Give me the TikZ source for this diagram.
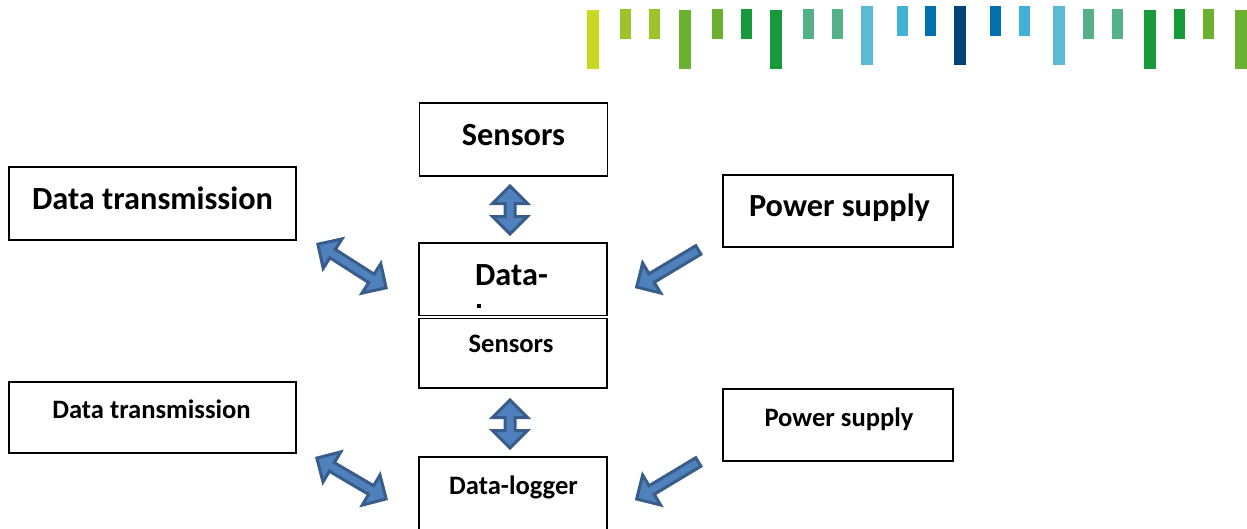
\documentclass[tikz,border=0pt]{standalone}
\usepackage{fontspec}
\setmainfont{Carlito}
\usetikzlibrary{calc}
\definecolor{cA}{HTML}{C9D821}
\definecolor{cB}{HTML}{9DC32A}
\definecolor{cC}{HTML}{6BB131}
\definecolor{cD}{HTML}{169A3A}
\definecolor{cE}{HTML}{53B088}
\definecolor{cF}{HTML}{5CBAD6}
\definecolor{cG}{HTML}{41B1D6}
\definecolor{cH}{HTML}{0070AF}
\definecolor{cI}{HTML}{00427A}
\definecolor{arrowfill}{HTML}{4F81BD}
\definecolor{arrowline}{HTML}{385D8A}
\begin{document}
\begin{tikzpicture}[x=1pt,y=-1pt,
  box/.style={draw=black, line width=1.3pt, inner sep=0pt, minimum width=188pt},
  bigtxt/.style={anchor=base, inner sep=0pt, font=\fontsize{32.3}{36}\selectfont\bfseries},
  smalltxt/.style={anchor=base, inner sep=0pt, font=\fontsize{26.6}{30}\selectfont\bfseries},
  blockarrow/.style={fill=arrowfill, draw=arrowline, line width=3pt, line join=miter},
  pics/dblarrow/.style={code={
    \pgfmathsetmacro\arrL{#1/2}
    \pgfmathsetmacro\arrH{#1/2-17.5}
    \path[blockarrow] (-\arrL,0) -- (-\arrH,17.5) -- (-\arrH,5) -- (\arrH,5)
      -- (\arrH,17.5) -- (\arrL,0) -- (\arrH,-17.5) -- (\arrH,-5)
      -- (-\arrH,-5) -- (-\arrH,-17.5) -- cycle;
  }},
  pics/sglarrow/.style={code={
    \pgfmathsetmacro\arrL{#1/2}
    \pgfmathsetmacro\arrH{#1/2-17.5}
    \path[blockarrow] (-\arrL,5) -- (\arrH,5) -- (\arrH,17.5) -- (\arrL,0)
      -- (\arrH,-17.5) -- (\arrH,-5) -- (-\arrL,-5) -- cycle;
  }}]
\useasboundingbox (0,0) rectangle (1247,528);
\clip (0,0) rectangle (1247,528);
% top bars
\fill[cA] (587,10) rectangle (599,69);
\fill[cB] (620,9) rectangle (631,39);
\fill[cB] (649,9) rectangle (660,39);
\fill[cC] (679,10) rectangle (691,69);
\fill[cC] (712,9) rectangle (723,39);
\fill[cD] (741,9) rectangle (752,39);
\fill[cD] (770,10) rectangle (782,69);
\fill[cE] (803,9) rectangle (814,39);
\fill[cE] (832,9) rectangle (843,39);
\fill[cF] (861,6) rectangle (873,65);
\fill[cG] (897,6) rectangle (908,36);
\fill[cH] (925,6) rectangle (936,36);
\fill[cI] (954,6) rectangle (966,65);
\fill[cH] (990,6) rectangle (1001,36);
\fill[cG] (1019,6) rectangle (1030,36);
\fill[cF] (1053,6) rectangle (1065,65);
\fill[cE] (1083,9) rectangle (1094,39);
\fill[cE] (1112,9) rectangle (1123,39);
\fill[cD] (1144,10) rectangle (1156,69);
\fill[cD] (1174,9) rectangle (1185,39);
\fill[cC] (1203,9) rectangle (1214,39);
\fill[cC] (1235,10) rectangle (1247,69);

% upper diagram
\node[box, minimum height=73pt] (sens1) at (513.5,139.5) {};
\node[bigtxt] (sens1t) at (513.5,145) {Sensors};
\node[box, minimum width=287pt, minimum height=73pt] (dt1) at (152.5,203.5) {};
\node[bigtxt] (dt1t) at (152.5,209) {Data transmission};
\node[box, minimum width=230pt, minimum height=72pt] (ps1) at (838,211) {};
\node[bigtxt] (ps1t) at (839.5,216) {Power supply};
\node[box, minimum height=72.5pt] (dl1) at (513,279.25) {};
\node[bigtxt] (dl1t) at (511.5,285.5) {Data-};
\fill (476.5,303.5) rectangle (480.5,308);

% lower diagram
\node[box, minimum height=69.5pt] (sens2) at (513,353.25) {};
\node[smalltxt] (sens2t) at (511,352) {Sensors};
\node[box, minimum width=287pt, minimum height=71pt] (dt2) at (152.5,417.5) {};
\node[smalltxt] (dt2t) at (151.5,418) {Data transmission};
\node[box, minimum width=230pt, minimum height=72pt] (ps2) at (838,425) {};
\node[smalltxt] (ps2t) at (839,426) {Power supply};
\node[box, minimum height=90pt] (dl2) at (513,502) {};
\node[smalltxt] (dl2t) at (513.5,494) {Data-logger};

% arrow end points (visible tips / tails)
\coordinate (v1a) at (510,184);
\coordinate (v1b) at (510,236);
\coordinate (l1a) at (316,243);
\coordinate (l1b) at (388,289);
\coordinate (r1a) at (700,249);
\coordinate (r1b) at (635,288);
\coordinate (v2a) at (510,398);
\coordinate (v2b) at (510,450);
\coordinate (l2a) at (315,457);
\coordinate (l2b) at (388,500);
\coordinate (r2a) at (700,461);
\coordinate (r2b) at (635,500);

\pic[rotate=90] at ($(v1a)!0.5!(v1b)$) {dblarrow=48};
\pic[rotate=-32.6] at ($(l1a)!0.5!(l1b)$) {dblarrow=81};
\pic[rotate=211] at ($(r1a)!0.5!(r1b)$) {sglarrow=72};
\pic[rotate=90] at ($(v2a)!0.5!(v2b)$) {dblarrow=48};
\pic[rotate=-30.5] at ($(l2a)!0.5!(l2b)$) {dblarrow=80.5};
\pic[rotate=211] at ($(r2a)!0.5!(r2b)$) {sglarrow=72};
\end{tikzpicture}
\end{document}
